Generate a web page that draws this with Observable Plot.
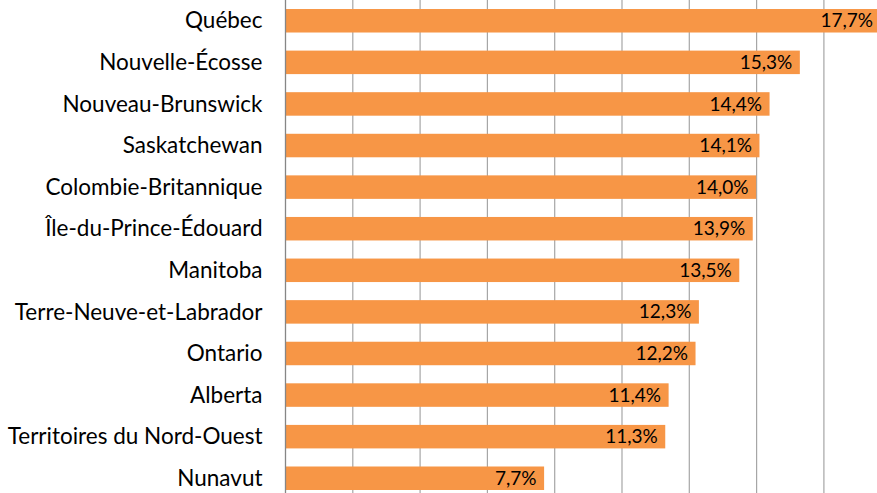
<!DOCTYPE html>
<html>
<head>
<meta charset="utf-8">
<script src="https://cdn.jsdelivr.net/npm/d3@7"></script>
<script src="https://cdn.jsdelivr.net/npm/@observablehq/plot@0.6"></script>
<style>
  html, body { margin: 0; padding: 0; background: #fff; overflow: hidden; }
  #chart svg { overflow: hidden; }
</style>
</head>
<body>
<div id="chart"></div>
<script>
const provinces = [
  "Québec", "Nouvelle-Écosse", "Nouveau-Brunswick", "Saskatchewan",
  "Colombie-Britannique", "Île-du-Prince-Édouard", "Manitoba",
  "Terre-Neuve-et-Labrador", "Ontario", "Alberta",
  "Territoires du Nord-Ouest", "Nunavut"
];
const values = [17.7, 15.3, 14.4, 14.1, 14.0, 13.9, 13.5, 12.3, 12.2, 11.4, 11.3, 7.7];
const gridTicks = [2, 4, 6, 8, 10, 12, 14, 16];

const data = provinces.map((p, i) => ({province: p, value: values[i]}));
const fmt = v => v.toFixed(1).replace(".", ",") + "%";

const W = 877, H = 493;
const pxPerUnit = 33.65;
const marginLeft = 285;
const xMax = 18;
const marginRight = W - (marginLeft + xMax * pxPerUnit);

const chart = Plot.plot({
  width: W,
  height: H,
  marginLeft,
  marginRight,
  marginTop: 0,
  marginBottom: 0,
  style: {fontFamily: "Lato, sans-serif", background: "#fff", overflow: "hidden"},
  x: {domain: [0, xMax], axis: null, round: false},
  y: {domain: provinces, paddingInner: 0.435, paddingOuter: 0.1445, align: 0.75, round: false, label: null},
  marks: [
    Plot.ruleX(gridTicks, {stroke: "#a6a6a6", strokeWidth: 1.2, strokeOpacity: 1}),
    Plot.barX(data, {y: "province", x: "value", fill: "#F79646"}),
    Plot.ruleX([0], {stroke: "#868686", strokeWidth: 1.3}),
    Plot.text(data, {
      y: "province", x: "value", text: d => fmt(d.value),
      textAnchor: "end", dx: -8, fill: "#000", fontSize: 19
    }),
    Plot.axisY({tickSize: 0, tickPadding: 23, fontSize: 22.5, fill: "#000", label: null})
  ]
});
document.getElementById("chart").append(chart);
</script>
</body>
</html>
